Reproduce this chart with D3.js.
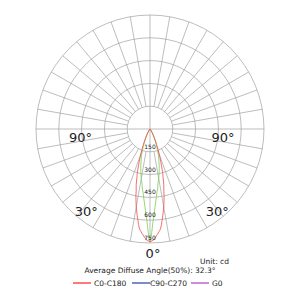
<!DOCTYPE html>
<html>
<head>
<meta charset="utf-8">
<script src="https://cdn.jsdelivr.net/npm/d3@7"></script>
<style>
  body { margin: 0; background: #fff; }
  text { font-family: "DejaVu Sans", Verdana, sans-serif; }
</style>
</head>
<body>
<div id="chart"></div>
<script>
// angles from the downward axis, in degrees
let angles   = [0, 2, 2.5, 4, 5, 6, 7.5, 8, 10, 12, 12.5, 14, 15, 16, 17.5, 18, 20, 22, 22.5, 25, 30, 35, 40, 45, 50, 60, 90];
// C0-C180 (red)
let c0_c180  = [740, 728, 719, 695, 678, 660, 607, 590, 520, 445, 420, 375, 333, 305, 250, 235, 177, 135, 120, 77, 27, 7, 2, 0, 0, 0, 0];
// green curve
let c90_c270 = [740, 600, 575, 500, 462, 425, 392, 370, 330, 290, 280, 250, 230, 210, 185, 175, 140, 110, 103, 75, 35, 15, 5, 2, 0, 0, 0];
let rings = [150, 300, 450, 600, 750];
let legend_items = [
  {name: "C0-C180", color: "#ff2020"},
  {name: "C90-C270", color: "#2040b0"},
  {name: "G0", color: "#b040c0"}
];

let width = 300, height = 300;
let cx = 150, cy = 129, R = 114;

let svg = d3.select("#chart")
  .append("svg")
  .attr("width", width)
  .attr("height", height);

let r_scale = d3.scaleLinear().domain([0, 750]).range([0, R]);

let g = svg.append("g").attr("transform", "translate(" + cx + "," + cy + ")");

// rings
g.selectAll(".ring")
  .data(rings)
  .enter()
  .append("circle")
  .attr("r", d => r_scale(d))
  .style("fill", "none")
  .style("stroke", "#a0a0a0")
  .style("stroke-width", 0.7);

// radial spokes every 10 deg, starting at the first ring
let spokes = d3.range(0, 360, 10);
g.selectAll(".spoke")
  .data(spokes)
  .enter()
  .append("line")
  .attr("x1", d => (d % 90 == 0 ? 0 : r_scale(rings[0])) * Math.sin(d * Math.PI / 180))
  .attr("y1", d => (d % 90 == 0 ? 0 : r_scale(rings[0])) * Math.cos(d * Math.PI / 180))
  .attr("x2", d => R * Math.sin(d * Math.PI / 180))
  .attr("y2", d => R * Math.cos(d * Math.PI / 180))
  .style("stroke", "#a0a0a0")
  .style("stroke-width", 0.7);

// curves, mirrored on both sides of 0 deg
let make_pts = vals => {
  let pts = [];
  for (let i = angles.length - 1; i >= 0; i--) pts.push([Math.PI - angles[i] * Math.PI / 180, vals[i]]);
  for (let i = 1; i < angles.length; i++) pts.push([Math.PI + angles[i] * Math.PI / 180, vals[i]]);
  return pts;
};

let radial = d3.lineRadial()
  .angle(d => d[0])
  .radius(d => r_scale(d[1]))
  .curve(d3.curveCatmullRom);

g.append("path")
  .attr("d", radial(make_pts(c90_c270)))
  .style("fill", "none")
  .style("stroke", "#78cc50")
  .style("stroke-width", 0.8);

g.append("path")
  .attr("d", radial(make_pts(c0_c180)))
  .style("fill", "none")
  .style("stroke", "#f04848")
  .style("stroke-width", 0.8);

// ring value labels
g.selectAll(".rlabel")
  .data(rings)
  .enter()
  .append("text")
  .attr("x", 0)
  .attr("y", d => r_scale(d) - 3)
  .attr("text-anchor", "middle")
  .style("font-size", "6px")
  .style("fill", "#222")
  .text(d => d);

// angle labels
let angle_labels = [
  {t: "90°", x: -0.61 * R, y: 13},
  {t: "90°", x: 0.64 * R, y: 13},
  {t: "30°", x: -0.56 * R, y: 0.76 * R},
  {t: "30°", x: 0.59 * R, y: 0.76 * R},
  {t: "0°", x: 3, y: R + 15}
];
g.selectAll(".alabel")
  .data(angle_labels)
  .enter()
  .append("text")
  .attr("x", d => d.x)
  .attr("y", d => d.y)
  .attr("text-anchor", "middle")
  .style("font-size", "13px")
  .style("fill", "#222")
  .text(d => d.t);

svg.append("text")
  .attr("x", 229)
  .attr("y", 264)
  .attr("text-anchor", "end")
  .style("font-size", "7.5px")
  .style("fill", "#222")
  .text("Unit: cd");

svg.append("text")
  .attr("x", 150)
  .attr("y", 273)
  .attr("text-anchor", "middle")
  .style("font-size", "7.5px")
  .style("fill", "#222")
  .text("Average Diffuse Angle(50%): 32.3°");

// legend
let lx = [73, 132, 191];
let leg = svg.selectAll(".leg")
  .data(legend_items)
  .enter()
  .append("g")
  .attr("transform", (d, i) => "translate(" + lx[i] + ",283)");
leg.append("line")
  .attr("x1", 0).attr("x2", 18)
  .style("stroke", d => d.color)
  .style("stroke-width", 1.2);
leg.append("text")
  .attr("x", (d, i) => i == 1 ? 18 : 21)
  .attr("y", 3)
  .style("font-size", "7.5px")
  .style("fill", "#222")
  .text(d => d.name);
</script>
</body>
</html>
